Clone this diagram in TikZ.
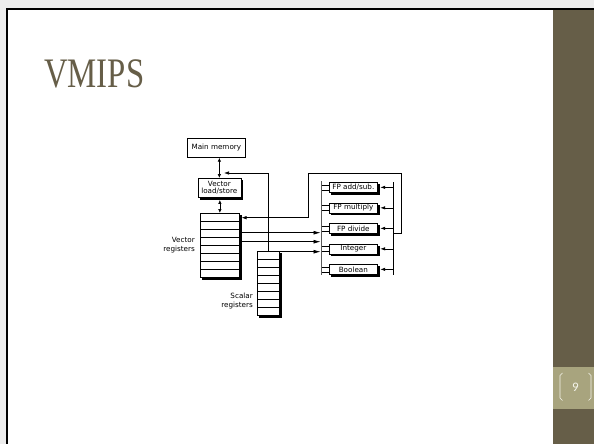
\documentclass[tikz,border=0pt]{standalone}
\usepackage{fontspec}
\usetikzlibrary{arrows.meta,calc}
\newfontfamily\diagfont{DejaVu Sans}
\newfontfamily\titlefont{Liberation Serif}
\newfontfamily\numfont{Carlito}
\definecolor{olivedark}{RGB}{102,94,72}
\definecolor{olivelight}{RGB}{168,164,126}
\definecolor{titlecol}{RGB}{102,94,72}
\definecolor{numcol}{RGB}{245,245,236}
\pgfdeclareradialshading{vign}{\pgfpoint{0bp}{0bp}}{color(0bp)=(white); color(46bp)=(white); color(71bp)=(black!20)}
\newcommand\boxshadow[1]{%
  \fill[black] ($(#1.north east)+(0,2)$) rectangle ($(#1.south east)+(2.2,2.2)$);
  \fill[black] ($(#1.south west)+(2,0)$) rectangle ($(#1.south east)+(2.2,2.2)$);}
\begin{document}
\begin{tikzpicture}[x=1pt,y=-1pt,
  box/.style={draw, line width=0.7pt, fill=white, inner sep=0pt, align=center,
    font=\diagfont\fontsize{7.2}{7.6}\selectfont},
  lbl/.style={align=right, anchor=east, inner sep=0pt, font=\diagfont\fontsize{7.2}{9}\selectfont},
  ln/.style={line width=0.7pt},
  arr/.style={ln, -{Latex[length=7pt,width=4pt]}},
  arrs/.style={ln, -{Latex[length=5pt,width=3.5pt]}},
  barr/.style={ln, {Latex[length=4pt,width=3.5pt]}-{Latex[length=4pt,width=3.5pt]}},
  bus/.style={line width=1.4pt, black!65}
]
% background
\useasboundingbox (0,0) rectangle (594,444);
\fill[black!7] (0,0) rectangle (594,444);
\shade[shading=vign] (7,9) rectangle (553,444);
\fill[olivedark] (553,9) rectangle (594,444);
\fill[olivelight] (553,367) rectangle (594,409);
\draw[line width=2pt] (7,444) -- (7,9) -- (594,9);
% page number
\draw[numcol, line width=0.6pt] (562.5,373) -- (560,375.5) -- (560,398) -- (562.5,400.5);
\draw[numcol, line width=0.6pt] (588.5,373) -- (591,375.5) -- (591,398) -- (588.5,400.5);
\node[font=\numfont\fontsize{13}{13}\selectfont, text=numcol, inner sep=0pt] (pnum) at (575.5,387) {9};
% title
\node[anchor=base west, inner sep=0pt, xscale=0.78, font=\titlefont\fontsize{42}{42}\selectfont, text=titlecol] (title) at (44,88) {VMIPS};

% diagram nodes
\node[box, minimum width=58pt, minimum height=19pt, anchor=north west] (mm) at (187,138) {Main memory};
\node[box, minimum width=43pt, minimum height=19pt, anchor=north west] (ls) at (197.5,178) {Vector\\load/store};
\node[box, minimum width=39pt, minimum height=64pt, anchor=north west] (vreg) at (200,213) {};
\node[box, minimum width=22pt, minimum height=64pt, anchor=north west] (sreg) at (257,251) {};
\foreach \i in {1,...,7} {
  \draw[ln] ($(vreg.north west)!\i/8!(vreg.south west)$) -- ($(vreg.north east)!\i/8!(vreg.south east)$);
  \draw[ln] ($(sreg.north west)!\i/8!(sreg.south west)$) -- ($(sreg.north east)!\i/8!(sreg.south east)$);
}
\node[lbl] (vlab) at (195,245) {Vector\\registers};
\node[lbl] (slab) at (253,301) {Scalar\\registers};

\node[box, minimum width=48pt, minimum height=10pt, anchor=north west] (fpadd) at (329,182) {FP add/sub.};
\node[box, minimum width=48pt, minimum height=10pt, anchor=north west] (fpmul) at (329,202.5) {FP multiply};
\node[box, minimum width=48pt, minimum height=10pt, anchor=north west] (fpdiv) at (329,223) {FP divide};
\node[box, minimum width=48pt, minimum height=10pt, anchor=north west] (fpint) at (329,243.5) {Integer};
\node[box, minimum width=48pt, minimum height=10pt, anchor=north west] (fpbool) at (329,264) {Boolean};
\foreach \u in {ls,vreg,sreg,fpadd,fpmul,fpdiv,fpint,fpbool} {\boxshadow{\u}}

% buses
\coordinate (ibtop) at (321.5,181);
\coordinate (ibbot) at (321.5,274.5);
\coordinate (obtop) at (393,182);
\coordinate (obbot) at (393,274.5);
\draw[bus] (ibtop) -- (ibbot);
\draw[ln] (obtop) -- (obbot);
\foreach \u in {fpadd,fpmul,fpdiv,fpint,fpbool} {
  \draw[ln] ([yshift=-3pt]\u.north west) -- ++(-7.5,0);
  \draw[ln] ([yshift=2.5pt]\u.south west) -- ++(-7.5,0);
  \draw[arrs] (obtop |- \u.east) -- ([xshift=2.5pt]\u.east);
}

% memory path
\draw[barr] (ls.north) -- (ls.north |- mm.south);
\draw[barr] (vreg.north) -- ([yshift=-2.2pt]vreg.north |- ls.south);

% scalar address line
\coordinate (saddr) at (224,173);
\draw[arrs] (sreg.north) |- (saddr);

% result loop back to vector registers
\coordinate (loopjoin) at (393,233);
\coordinate (looptop) at (401.5,173);
\coordinate (loopleft) at (308,173);
\coordinate (vin) at (241.5,217.7);
\draw[arrs] (loopjoin) -| (looptop) -- (loopleft) |- (vin);

% operands to functional units
\coordinate (b1) at (320.5,232.7);
\coordinate (b2) at (320.5,241.7);
\coordinate (b3) at (320.5,251.7);
\draw[arr] (b1 -| vreg.east) -- (b1);
\draw[arr] (b2 -| vreg.east) -- (b2);
\draw[arr] (b3 -| sreg.east) -- (b3);
\end{tikzpicture}
\end{document}
